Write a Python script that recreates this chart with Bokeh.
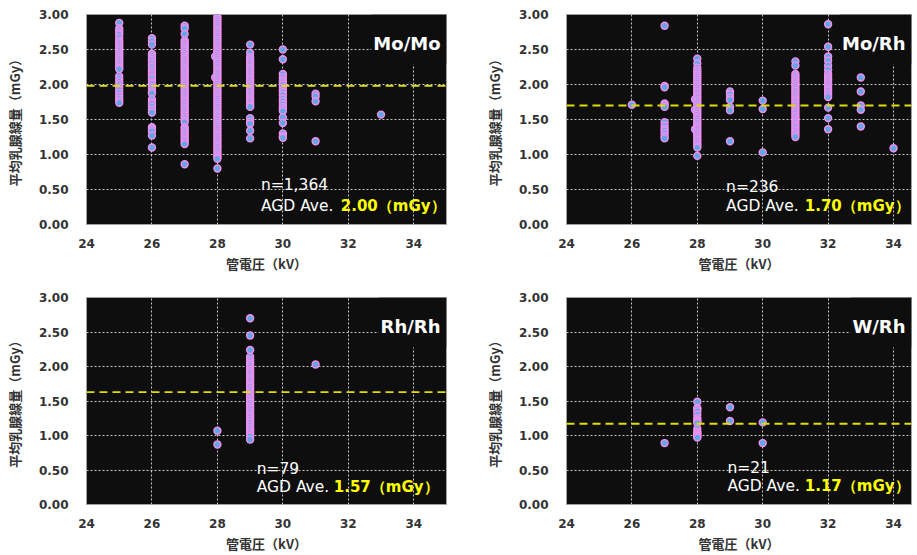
from bokeh.plotting import figure
from bokeh.models import Label, Span, FixedTicker, NumeralTickFormatter, Range1d, ColumnDataSource
from bokeh.layouts import column, row
from bokeh.embed import file_html
from bokeh.resources import INLINE

# ---------------- data ----------------
KV_TICKS = [24, 26, 28, 30, 32, 34]
AGD_TICKS = [0.0, 0.5, 1.0, 1.5, 2.0, 2.5, 3.0]
X_LABEL = "管電圧（kV）"
Y_LABEL = "平均乳腺線量（mGy）"

# Mo/Mo
MOMO_25 = [2.88, 2.80, 2.77, 2.74, 2.71, 2.67, 2.63, 2.60, 2.57, 2.54, 2.51, 2.48, 2.45, 2.42,
           2.39, 2.36, 2.33, 2.30, 2.27, 2.24, 2.22, 2.12, 2.08, 2.04, 2.00, 1.96, 1.92, 1.88,
           1.84, 1.80, 1.77, 1.74]
MOMO_26 = [2.66, 2.62, 2.57, 2.44, 2.41, 2.38, 2.35, 2.31, 2.28, 2.25, 2.21, 2.18, 2.15, 2.11,
           2.08, 2.04, 2.01, 1.97, 1.94, 1.90, 1.87, 1.79, 1.75, 1.72, 1.68, 1.64, 1.60, 1.39,
           1.36, 1.33, 1.27, 1.10]
MOMO_27 = [2.84, 2.80, 2.72, 2.63, 2.60, 2.57, 2.54, 2.51, 2.48, 2.45, 2.42, 2.39, 2.36, 2.33,
           2.30, 2.27, 2.24, 2.21, 2.18, 2.15, 2.12, 2.09, 2.06, 2.03, 2.00, 1.97, 1.94, 1.91,
           1.88, 1.85, 1.82, 1.79, 1.76, 1.73, 1.70, 1.67, 1.64, 1.61, 1.58, 1.55, 1.52, 1.49,
           1.46, 1.39, 1.36, 1.33, 1.30, 1.27, 1.24, 1.21, 1.18, 1.15, 0.86]
MOMO_28_SIDE = [2.40, 2.10]
MOMO_28 = [2.97, 2.94, 2.91, 2.88, 2.85, 2.82, 2.79, 2.76, 2.73, 2.70, 2.67, 2.64, 2.61, 2.58,
           2.55, 2.52, 2.49, 2.46, 2.43, 2.40, 2.37, 2.34, 2.31, 2.28, 2.25, 2.22, 2.19, 2.16,
           2.13, 2.10, 2.07, 2.04, 2.01, 1.98, 1.95, 1.92, 1.89, 1.86, 1.83, 1.80, 1.77, 1.74,
           1.71, 1.68, 1.65, 1.62, 1.59, 1.56, 1.53, 1.50, 1.47, 1.44, 1.41, 1.38, 1.35, 1.32,
           1.29, 1.26, 1.23, 1.20, 1.17, 1.14, 1.11, 1.08, 1.05, 1.02, 0.99, 0.96, 0.94, 0.80]
MOMO_29 = [2.57, 2.45, 2.39, 2.36, 2.33, 2.30, 2.27, 2.24, 2.21, 2.18, 2.15, 2.12, 2.09, 2.06,
           2.03, 2.00, 1.97, 1.94, 1.91, 1.88, 1.85, 1.82, 1.79, 1.76, 1.73, 1.70, 1.68, 1.52,
           1.47, 1.44, 1.34, 1.23]
MOMO_30 = [2.50, 2.36, 2.15, 2.10, 2.06, 2.03, 2.00, 1.96, 1.92, 1.89, 1.85, 1.80, 1.76, 1.72,
           1.68, 1.65, 1.62, 1.53, 1.45, 1.30, 1.26, 1.24]
MOMO_31 = [1.87, 1.83, 1.76, 1.19]
MOMO_33 = [1.57]
MOMO_AVG_LINE = 1.98

# Mo/Rh
MORH_26 = [1.71]
MORH_27 = [2.84, 1.98, 1.96, 1.73, 1.71, 1.68, 1.46, 1.41, 1.37, 1.34, 1.30, 1.26, 1.23]
MORH_28_SIDE = [1.79, 1.64, 1.36]
MORH_28 = [2.37, 2.30, 2.24, 2.20, 2.17, 2.14, 2.11, 2.08, 2.05, 2.02, 1.99, 1.96, 1.93, 1.90,
           1.87, 1.84, 1.81, 1.78, 1.75, 1.72, 1.69, 1.66, 1.63, 1.60, 1.57, 1.54, 1.51, 1.48,
           1.45, 1.42, 1.39, 1.36, 1.33, 1.30, 1.27, 1.24, 1.21, 1.18, 1.15, 1.12, 1.10, 0.98]
MORH_29 = [1.90, 1.86, 1.81, 1.78, 1.68, 1.63, 1.19]
MORH_30 = [1.77, 1.65, 1.03]
MORH_31 = [2.33, 2.27, 2.15, 2.12, 2.09, 2.06, 2.03, 2.00, 1.97, 1.94, 1.91, 1.88, 1.85, 1.82,
           1.79, 1.76, 1.73, 1.70, 1.67, 1.64, 1.61, 1.58, 1.55, 1.52, 1.49, 1.46, 1.43, 1.40,
           1.37, 1.34, 1.31, 1.28, 1.25]
MORH_32 = [2.86, 2.54, 2.40, 2.34, 2.27, 2.21, 2.15, 2.12, 2.09, 2.06, 2.03, 2.00, 1.97, 1.94,
           1.91, 1.88, 1.85, 1.82, 1.67, 1.52, 1.36]
MORH_33 = [2.10, 1.90, 1.70, 1.64, 1.40]
MORH_34 = [1.09]
MORH_AVG_LINE = 1.70

# Rh/Rh
RHRH_28 = [1.07, 0.87]
RHRH_29 = [2.70, 2.45, 2.24, 2.14, 2.10, 2.07, 2.04, 2.01, 1.98, 1.95, 1.92, 1.89, 1.86, 1.83,
           1.80, 1.77, 1.74, 1.71, 1.68, 1.65, 1.62, 1.59, 1.56, 1.53, 1.50, 1.47, 1.44, 1.41,
           1.38, 1.35, 1.32, 1.29, 1.26, 1.23, 1.20, 1.17, 1.14, 1.11, 1.08, 1.05, 1.02, 0.99,
           0.94]
RHRH_31 = [2.03]
RHRH_AVG_LINE = 1.63

# W/Rh
WRH_27 = [0.89]
WRH_28 = [1.49, 1.40, 1.38, 1.35, 1.30, 1.25, 1.22, 1.20, 1.18, 1.10, 1.06, 1.04, 1.02, 1.00,
          0.98, 0.97]
WRH_29 = [1.41, 1.21]
WRH_30 = [1.19, 0.89]
WRH_AVG_LINE = 1.17

PANELS = [
    dict(title="Mo/Mo", n="n=1,364", ave="2.00（mGy）",
         cols=[(25, MOMO_25), (26, MOMO_26), (27, MOMO_27), (27.93, MOMO_28_SIDE), (28, MOMO_28),
               (29, MOMO_29), (30, MOMO_30), (31, MOMO_31), (33, MOMO_33)],
         avg=MOMO_AVG_LINE),
    dict(title="Mo/Rh", n="n=236", ave="1.70（mGy）",
         cols=[(26, MORH_26), (27, MORH_27), (27.93, MORH_28_SIDE), (28, MORH_28), (29, MORH_29),
               (30, MORH_30), (31, MORH_31), (32, MORH_32), (33, MORH_33), (34, MORH_34)],
         avg=MORH_AVG_LINE),
    dict(title="Rh/Rh", n="n=79", ave="1.57（mGy）",
         cols=[(28, RHRH_28), (29, RHRH_29), (31, RHRH_31)],
         avg=RHRH_AVG_LINE),
    dict(title="W/Rh", n="n=21", ave="1.17（mGy）",
         cols=[(27, WRH_27), (28, WRH_28), (29, WRH_29), (30, WRH_30)],
         avg=WRH_AVG_LINE),
]

# ---------------- layout / style ----------------
LAYOUT = [
    dict(x_end=35.0, fw=360, fh=210, bl=86, bt=14, bb=56, br=34,
         n_xy=(29.33, 0.56), ave_y=0.27, val_off=-1),
    dict(x_end=34.55, fw=345, fh=210, bl=86, bt=14, bb=56, br=4,
         n_xy=(28.88, 0.53), ave_y=0.26, val_off=-2),
    dict(x_end=35.0, fw=360, fh=207, bl=86, bt=17, bb=50, br=34,
         n_xy=(29.2, 0.52), ave_y=0.25, val_off=-8),
    dict(x_end=34.55, fw=345, fh=207, bl=86, bt=17, bb=50, br=4,
         n_xy=(28.92, 0.53), ave_y=0.27, val_off=-2),
]

BG = "#0e0e0e"
LATIN = "DejaVu Sans"
CJK = "Noto Sans CJK JP"


def make_panel(d, L):
    xs, ys = [], []
    for kv, vals in d["cols"]:
        xs += [kv] * len(vals)
        ys += list(vals)
    src = ColumnDataSource(dict(kv=xs, agd=ys))

    p = figure(frame_width=L["fw"], frame_height=L["fh"],
               x_range=Range1d(24, L["x_end"]), y_range=Range1d(0, 3),
               output_backend="svg", toolbar_location=None,
               min_border_left=L["bl"], min_border_right=L["br"],
               min_border_top=L["bt"], min_border_bottom=L["bb"],
               background_fill_color=BG, border_fill_color="white",
               outline_line_color="#a0a0a0", outline_line_width=1)

    p.xaxis.ticker = FixedTicker(ticks=KV_TICKS)
    p.yaxis.ticker = FixedTicker(ticks=AGD_TICKS)
    p.xgrid.ticker = FixedTicker(ticks=KV_TICKS)
    p.ygrid.ticker = FixedTicker(ticks=AGD_TICKS)
    p.yaxis.formatter = NumeralTickFormatter(format="0.00")
    for g in (p.xgrid, p.ygrid):
        g.grid_line_color = "#c8c8c8"
        g.grid_line_dash = "2 2"
        g.grid_line_width = 1

    for ax in (p.xaxis, p.yaxis):
        ax.axis_line_color = None
        ax.major_tick_line_color = None
        ax.minor_tick_line_color = None
        ax.major_tick_out = 0
        ax.major_tick_in = 0
        ax.minor_tick_out = 0
        ax.minor_tick_in = 0
        ax.major_label_text_font = LATIN
        ax.major_label_text_font_style = "bold"
        ax.major_label_text_font_size = "12px"
        ax.major_label_text_color = "#333333"
        ax.axis_label_text_font = CJK
        ax.axis_label_text_font_style = "bold"
        ax.axis_label_text_font_size = "13px"
        ax.axis_label_text_color = "#333333"
    p.yaxis.major_label_standoff = 18
    p.xaxis.major_label_standoff = 14
    p.xaxis.axis_label = X_LABEL
    p.xaxis.axis_label_standoff = 3
    p.yaxis.axis_label = Y_LABEL
    p.yaxis.axis_label_standoff = 12

    p.add_layout(Span(location=d["avg"], dimension="width", line_color="#dede00",
                      line_dash="8 5", line_width=1.8))

    p.scatter("kv", "agd", source=src, size=7, fill_color="#63a7e2",
              line_color="#f28ef2", line_width=1.4)

    p.add_layout(Label(x=L["x_end"], y=3.0, text=d["title"],
                       text_align="right", text_baseline="top", text_color="white",
                       text_font=LATIN, text_font_style="bold", text_font_size="18px",
                       background_fill_color=BG,
                       padding=dict(left=2, right=6, top=18, bottom=11)))

    nx, ny = L["n_xy"]
    p.add_layout(Label(x=nx, y=ny, text=d["n"], text_align="left", text_baseline="alphabetic",
                       text_color="white", text_font=LATIN, text_font_size="15.5px"))
    p.add_layout(Label(x=nx, y=L["ave_y"], text="AGD Ave.", text_align="left",
                       text_baseline="alphabetic", text_color="white", text_font=LATIN,
                       text_font_size="15.5px"))
    p.add_layout(Label(x=L["x_end"], x_offset=L["val_off"], y=L["ave_y"], text=d["ave"],
                       text_align="right", text_baseline="alphabetic", text_color="#ffff00",
                       text_font=LATIN, text_font_style="bold", text_font_size="15px"))
    return p


plots = [make_panel(d, L) for d, L in zip(PANELS, LAYOUT)]
layout = column(row(plots[0], plots[1]), row(plots[2], plots[3]))

open("out.html", "w").write(file_html(layout, INLINE))
